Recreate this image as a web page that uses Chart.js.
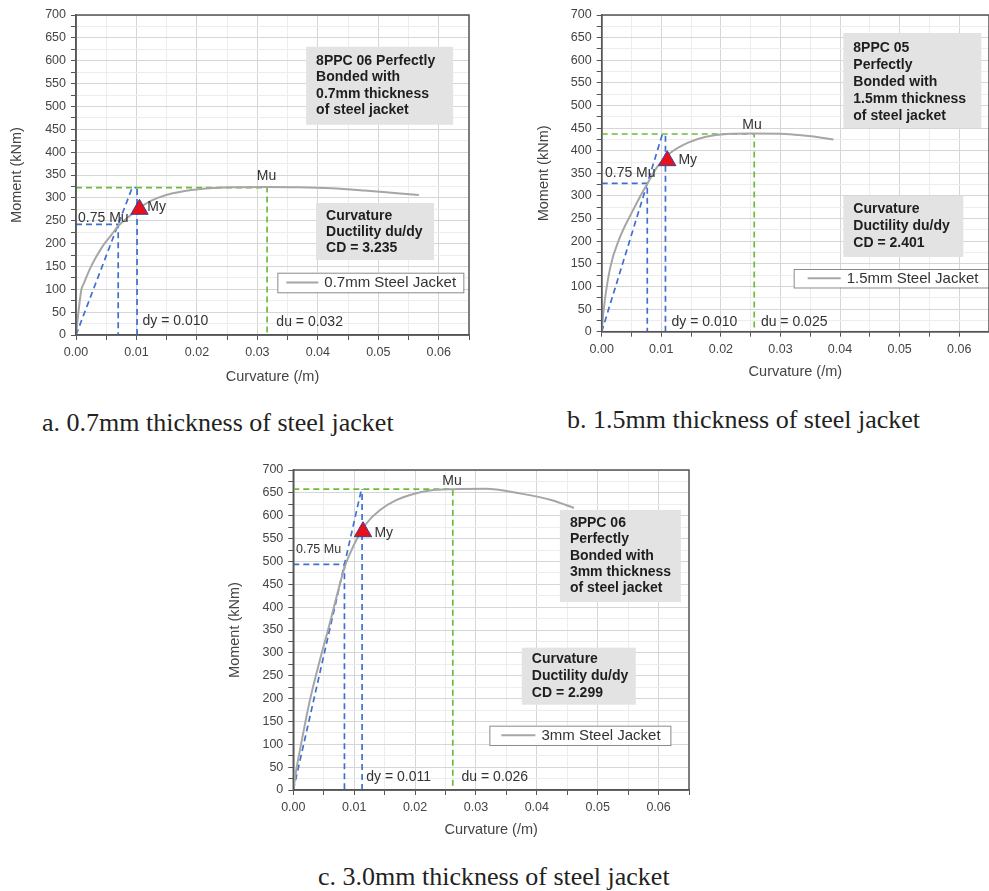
<!DOCTYPE html>
<html>
<head>
<meta charset="utf-8">
<script src="https://cdn.jsdelivr.net/npm/chart.js@4.4.1/dist/chart.umd.min.js"></script>
<style>
  body { margin: 0; background: #fff; width: 989px; height: 891px; overflow: hidden; position: relative; }
  canvas { position: absolute; }
  .cap { position: absolute; font-family: "Liberation Serif", serif; font-size: 26px; line-height: 1; color: #222; white-space: nowrap; }
</style>
</head>
<body>
<canvas id="chartA" width="480" height="390" style="left:0px;top:0px"></canvas>
<canvas id="chartB" width="480" height="390" style="left:520px;top:0px"></canvas>
<canvas id="chartC" width="480" height="390" style="left:220px;top:455px"></canvas>
<div class="cap" style="left:42px;top:410px">a. 0.7mm thickness of steel jacket</div>
<div class="cap" style="left:567px;top:407px">b. 1.5mm thickness of steel jacket</div>
<div class="cap" style="left:318px;top:864px">c. 3.0mm thickness of steel jacket</div>
<script>
// moment-curvature curves
const curvatureA = [0, 0.0004, 0.0009, 0.0012, 0.0025, 0.0042, 0.0058, 0.0071, 0.0094, 0.0115, 0.0135, 0.016, 0.0203, 0.0258, 0.0312, 0.0368, 0.0422, 0.0477, 0.0531, 0.0567];
const momentA    = [0, 50, 100, 110, 150, 190, 218, 240, 266, 287, 300, 310, 319, 323, 323.5, 323, 321, 316, 310, 306];
const curvatureB = [0, 0.0003, 0.0014, 0.0031, 0.005, 0.0065, 0.0077, 0.0094, 0.0114, 0.0145, 0.0175, 0.021, 0.0253, 0.0308, 0.0347, 0.0389];
const momentB    = [0, 45, 140, 210, 262, 300, 328, 366, 394, 418, 431, 437, 438, 437, 432.5, 425];
const curvatureC = [0, 0.0005, 0.0012, 0.0027, 0.0044, 0.006, 0.0076, 0.0085, 0.0094, 0.0104, 0.012, 0.0142, 0.0169, 0.0196, 0.0224, 0.0262, 0.0316, 0.0371, 0.0425, 0.0461];
const momentC    = [0, 45, 95, 195, 286, 365, 448, 490, 520, 548, 583, 612, 634, 647, 655, 658, 659, 649, 634, 617];

// key points per chart (0.7mm, 1.5mm, 3mm)
const muValues  = [322.5, 437, 658];
const dyValues  = [0.0101, 0.0107, 0.0113];
const duValues  = [0.0316, 0.0256, 0.0262];
const x075      = [0.00698, 0.00765, 0.0084];
const xSecant   = [0.0093, 0.0102, 0.0112];
const myPoints  = [[0.0105, 275], [0.011, 378], [0.01145, 565]];

const jacketLabels = ['0.7mm Steel Jacket', '1.5mm Steel Jacket', '3mm Steel Jacket'];
const dyLabels = ['dy = 0.010', 'dy = 0.010', 'dy = 0.011'];
const duLabels = ['du = 0.032', 'du = 0.025', 'du = 0.026'];
const cdLabels = ['CD = 3.235', 'CD = 2.401', 'CD = 2.299'];
const specimenText = [
  ['8PPC 06 Perfectly', 'Bonded with', '0.7mm thickness', 'of steel jacket'],
  ['8PPC 05', 'Perfectly', 'Bonded with', '1.5mm thickness', 'of steel jacket'],
  ['8PPC 06', 'Perfectly', 'Bonded with', '3mm thickness', 'of steel jacket']
];
const curves = [[curvatureA, momentA], [curvatureB, momentB], [curvatureC, momentC]];

const FONT = '"Liberation Sans", Arial, sans-serif';
const isMajorX = v => Math.abs(Math.round(v * 100) - v * 100) < 1e-6;

// boxes, labels and legend drawn on top of the plot
const annotate = {
  id: 'annotate',
  beforeDatasetsDraw(chart, args, o) {
    const { ctx, scales: { x, y } } = chart;
    ctx.save();
    ctx.fillStyle = '#e3e3e3';
    o.boxes.forEach(b => ctx.fillRect(x.getPixelForValue(b.at[0]), y.getPixelForValue(b.at[1]), b.w, b.h));
    ctx.restore();
  },
  afterDatasetsDraw(chart, args, o) {
    const { ctx, chartArea: a, scales: { x, y } } = chart;
    ctx.save();
    ctx.textBaseline = 'middle';
    ctx.fillStyle = '#1e1e1e';
    ctx.font = 'bold 14px ' + FONT;
    o.boxes.forEach(b => {
      const bx = x.getPixelForValue(b.at[0]), by = y.getPixelForValue(b.at[1]);
      b.lines.forEach((t, k) => ctx.fillText(t, bx + b.pad, by + b.first + k * b.lh));
    });
    ctx.fillStyle = '#333';
    o.labels.forEach(l => {
      ctx.font = (l.size || 14) + 'px ' + FONT;
      ctx.textAlign = l.align || 'left';
      ctx.fillText(l.text, x.getPixelForValue(l.at[0]), y.getPixelForValue(l.at[1]));
    });
    // legend
    const g = o.legend, ds = chart.data.datasets[1];
    const lx = x.getPixelForValue(g.at[0]), ly = y.getPixelForValue(g.at[1]);
    ctx.fillStyle = '#fff';
    ctx.fillRect(lx, ly, g.w, g.h);
    ctx.strokeStyle = '#8a8a8a';
    ctx.lineWidth = 1;
    ctx.strokeRect(lx + 0.5, ly + 0.5, g.w, g.h);
    ctx.strokeStyle = ds.borderColor;
    ctx.lineWidth = ds.borderWidth;
    ctx.beginPath();
    ctx.moveTo(lx + g.line[0], ly + g.h / 2);
    ctx.lineTo(lx + g.line[1], ly + g.h / 2);
    ctx.stroke();
    ctx.fillStyle = '#333';
    ctx.textAlign = 'left';
    ctx.font = '15px ' + FONT;
    ctx.fillText(ds.label, lx + g.text, ly + g.h / 2 + 0.5);
    // frame
    ctx.strokeStyle = '#555';
    ctx.lineWidth = 1.5;
    ctx.strokeRect(a.left, a.top, a.right - a.left, a.bottom - a.top);
    ctx.restore();
  }
};

function guides(i) {
  const blue = { borderColor: '#3f6fd1', borderWidth: 1.7, borderDash: [6, 4] };
  const green = { borderColor: '#6cbb3c', borderWidth: 1.7, borderDash: [6, 4] };
  const mu = muValues[i], m75 = 0.75 * mu;
  const pts = arr => arr.map(p => ({ x: p[0], y: p[1] }));
  return [
    { ...green, data: pts([[0, mu], [duValues[i], mu], [duValues[i], 0]]) },
    { ...blue, data: pts([[0, 0], [xSecant[i], mu], [dyValues[i], mu]]) },
    { ...blue, data: pts([[0, m75], [x075[i], m75], [x075[i], 0]]) },
    { ...blue, data: pts([[dyValues[i], 0], [dyValues[i], mu]]) }
  ].map(d => ({ ...d, showLine: true, pointRadius: 0, fill: false, tension: 0 }));
}

function buildChart(id, i, frame, notes) {
  const tickFont = { family: FONT, size: 12.5 };
  const titleFont = { family: FONT, size: 14.5 };
  new Chart(document.getElementById(id), {
    type: 'scatter',
    data: {
      datasets: [
        { label: 'My', data: [{ x: myPoints[i][0], y: myPoints[i][1] }], pointStyle: 'triangle', pointRadius: 10,
          backgroundColor: '#e8101a', borderColor: '#3a3f9a', borderWidth: 1 },
        { label: jacketLabels[i], data: curves[i][0].map((x, k) => ({ x, y: curves[i][1][k] })), showLine: true,
          borderColor: '#a6a6a6', borderWidth: 2, pointRadius: 0, cubicInterpolationMode: 'monotone' },
        ...guides(i)
      ]
    },
    options: {
      responsive: false,
      animation: false,
      events: [],
      layout: { padding: { top: 15, right: frame.right, left: 0, bottom: 0 } },
      plugins: { legend: { display: false }, tooltip: { enabled: false }, annotate: notes },
      scales: {
        x: {
          type: 'linear', min: 0, max: 0.065,
          ticks: { stepSize: 0.005, autoSkip: false, maxRotation: 0, padding: 5, color: '#444', font: tickFont,
            callback: v => isMajorX(v) ? v.toFixed(2) : '' },
          grid: { color: c => (c.tick && isMajorX(c.tick.value)) ? '#d6d6d6' : '#ededed', tickColor: '#555', tickLength: 5 },
          border: { color: '#555', width: 1.5 },
          title: { display: true, text: 'Curvature (/m)', color: '#444', font: titleFont, padding: { top: 0, bottom: frame.xTitle } },
          afterFit: s => { s.height = frame.xh; }
        },
        y: {
          min: 0, max: 700,
          ticks: { stepSize: 25, autoSkip: false, padding: 5, color: '#444', font: tickFont,
            callback: v => v % 50 === 0 ? v : '' },
          grid: { color: c => (c.tick && c.tick.value % 50 === 0) ? '#d6d6d6' : '#ededed', tickColor: '#555', tickLength: 5 },
          border: { color: '#555', width: 1.5 },
          title: { display: true, text: 'Moment (kNm)', color: '#444', font: titleFont, padding: { top: frame.yTitle, bottom: 0 } },
          afterFit: s => { s.width = frame.yw; }
        }
      }
    },
    plugins: [annotate]
  });
}

function notesFor(i, n) {
  return {
    boxes: [
      { at: n.box1, w: n.box1Size[0], h: n.box1Size[1], pad: 10, first: n.box1Lines[0], lh: n.box1Lines[1], lines: specimenText[i] },
      { at: n.box2, w: n.box2Size[0], h: n.box2Size[1], pad: 10, first: n.box2Lines[0], lh: n.box2Lines[1],
        lines: ['Curvature', 'Ductility du/dy', cdLabels[i]] }
    ],
    labels: [
      { text: 'Mu', at: n.mu, align: 'center' },
      { text: 'My', at: n.my },
      { text: '0.75 Mu', at: n.m75, size: n.m75Size || 14 },
      { text: dyLabels[i], at: n.dy },
      { text: duLabels[i], at: n.du }
    ],
    legend: n.legend
  };
}

buildChart('chartA', 0, { right: 7, xh: 55, yw: 76, xTitle: 4.6, yTitle: 8.6 }, notesFor(0, {
  box1: [0.03806, 630.5], box1Size: [147, 78], box1Lines: [14, 16.5],
  box2: [0.0397, 288.8], box2Size: [118, 57], box2Lines: [13, 16.3],
  mu: [0.0315, 348.5], my: [0.0118, 280], m75: [0.00033, 256.6], dy: [0.011, 31.3], du: [0.03314, 28.4],
  legend: { at: [0.0333, 136.3], w: 186, h: 19.6, line: [9, 41], text: 47 }
}));

buildChart('chartB', 1, { right: 8.3, xh: 58.3, yw: 81.7, xTitle: 9.6, yTitle: 14.9 }, notesFor(1, {
  box1: [0.04055, 660.2], box1Size: [138, 95], box1Lines: [14.7, 17.1],
  box2: [0.04055, 299.9], box2Size: [120, 61], box2Lines: [13.3, 17],
  mu: [0.02522, 456.9], my: [0.01288, 379.5], m75: [0.00055, 350.8], dy: [0.01172, 22], du: [0.02672, 21.4],
  legend: { at: [0.03222, 138.6], w: 200, h: 18.5, line: [14, 47], text: 53 }
}));

buildChart('chartC', 2, { right: 8.3, xh: 55, yw: 73.3, xTitle: 6.6, yTitle: 6.6 }, notesFor(2, {
  box1: [0.04379, 612.5], box1Size: [121, 92], box1Lines: [13.3, 16.25],
  box2: [0.03753, 311.3], box2Size: [114, 57], box2Lines: [11.3, 17],
  mu: [0.02606, 676], my: [0.01333, 562], m75: [0.00044, 525], m75Size: 12.5, dy: [0.01198, 28.4], du: [0.02764, 28.4],
  legend: { at: [0.03221, 140.7], w: 181, h: 19.3, line: [12, 46], text: 52 }
}));
</script>
</body>
</html>
